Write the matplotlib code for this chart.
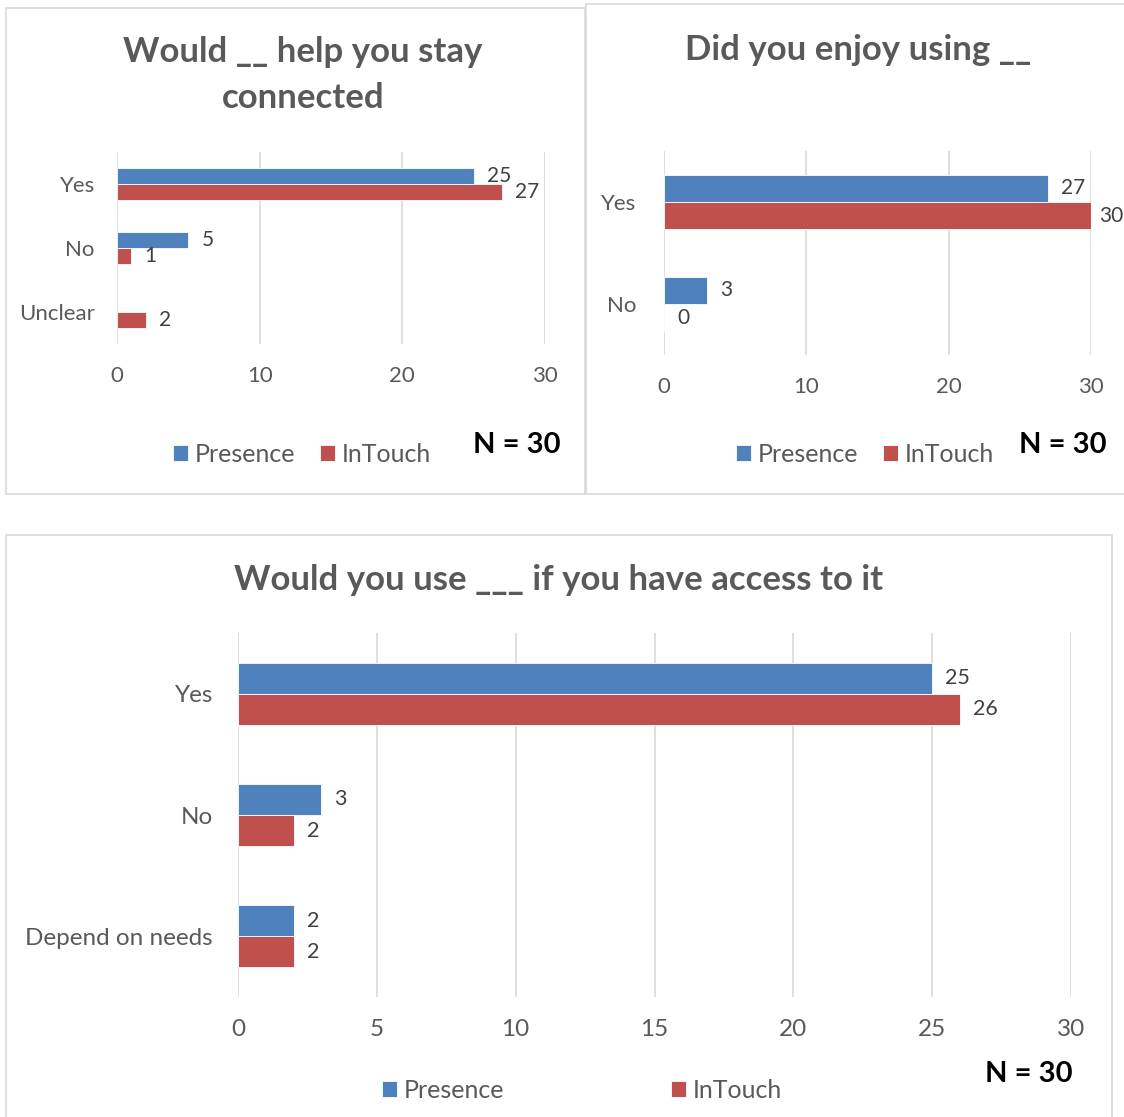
import matplotlib
matplotlib.use("Agg")
import matplotlib.pyplot as plt
from matplotlib.patches import Rectangle
import numpy as np

plt.rcParams['font.family'] = ['Lato', 'DejaVu Sans']

series = ["Presence", "InTouch"]
colors = ["#4F81BD", "#C0504D"]

title1 = "Would __ help you stay\nconnected"
cats1 = ["Yes", "No", "Unclear"]
presence1 = [25, 5, None]
intouch1 = [27, 1, 2]
ticks1 = [0, 10, 20, 30]

title2 = "Did you enjoy using __"
cats2 = ["Yes", "No"]
presence2 = [27, 3]
intouch2 = [30, 0]
ticks2 = [0, 10, 20, 30]

title3 = "Would you use ___ if you have access to it"
cats3 = ["Yes", "No", "Depend on needs"]
presence3 = [25, 3, 2]
intouch3 = [26, 2, 2]
ticks3 = [0, 5, 10, 15, 20, 25, 30]

W, H = 1124, 1117
fig = plt.figure(figsize=(W / 100, H / 100), dpi=100)

def fx(x):
    return x / W

def fy(y):
    return 1 - y / H

TXT = "#595959"
GRID = "#D9D9D9"

def border(l, t, r, b):
    fig.add_artist(Rectangle((fx(l), fy(b)), fx(r) - fx(l), fy(t) - fy(b),
                             transform=fig.transFigure, fill=False,
                             edgecolor=GRID, linewidth=1.2))

def panel(box, cats, pres, intc, ticks, bar_h, ylpad, fs, vfs):
    l, t, r, b = box
    ax = fig.add_axes([fx(l), fy(b), fx(r) - fx(l), fy(t) - fy(b)])
    y = np.arange(len(cats))
    pv = [np.nan if v is None else v for v in pres]
    bp = ax.barh(y - bar_h / 2, pv, height=bar_h, color=colors[0],
                 edgecolor="white", linewidth=0.6, label=series[0], zorder=3)
    bi = ax.barh(y + bar_h / 2, intc, height=bar_h, color=colors[1],
                 edgecolor="white", linewidth=0.6, label=series[1], zorder=3)
    for bars, vals in ((bp, pres), (bi, intc)):
        for rect, v in zip(bars, vals):
            if v is None:
                continue
            off = 8 if v >= ticks[-1] else 13
            ax.annotate(str(v), (v, rect.get_y() + rect.get_height() / 2),
                        xytext=(off, 0), textcoords="offset pixels",
                        ha="left", va="center", fontsize=vfs, color="#404040")
    ax.set_xlim(ticks[0], ticks[-1])
    ax.set_ylim(len(cats) - 0.5, -0.5)
    ax.set_xticks(ticks)
    ax.set_yticks(y)
    ax.set_yticklabels(cats)
    ax.tick_params(axis="x", length=0, pad=15.5, labelsize=fs, labelcolor=TXT)
    ax.tick_params(axis="y", length=0, pad=ylpad, labelsize=fs, labelcolor=TXT)
    ax.grid(axis="x", color=GRID, linewidth=1.2, zorder=0)
    for s in ax.spines.values():
        s.set_visible(False)
    ax.set_facecolor("none")
    return ax, bp, bi

border(6, 8, 585, 494)
border(586, 4, 1130, 494)
border(6, 535, 1112, 1125)

ax1, bp1, bi1 = panel((117, 152, 545, 344), cats1, presence1, intouch1, ticks1, 0.25, 16, 16, 15)
ax2, bp2, bi2 = panel((664, 151, 1091, 355), cats2, presence2, intouch2, ticks2, 0.265, 20, 16, 15)
ax3, bp3, bi3 = panel((238, 633, 1071, 997), cats3, presence3, intouch3, ticks3, 0.256, 18, 17.5, 15.5)

fig.text(fx(303), fy(75), title1, ha="center", va="center", fontsize=25,
         fontweight="bold", color=TXT, linespacing=1.5)
fig.text(fx(858), fy(50), title2, ha="center", va="center", fontsize=25,
         fontweight="bold", color=TXT)
fig.text(fx(559), fy(580), title3, ha="center", va="center", fontsize=25,
         fontweight="bold", color=TXT)

for (cx, cy), handles, cs in (((302, 454), (bp1, bi1), 1.0),
                              ((865, 454), (bp2, bi2), 1.0),
                              ((582, 1090), (bp3, bi3), 6.7)):
    fig.legend(handles, series, loc="center", bbox_to_anchor=(fx(cx), fy(cy)),
               bbox_transform=fig.transFigure, ncol=2, frameon=False,
               fontsize=18, handlelength=0.6, handleheight=0.6,
               handletextpad=0.25, columnspacing=cs, labelcolor=TXT,
               borderpad=0)

for cx, cy in ((517, 445), (1063, 445), (1029, 1074)):
    fig.text(fx(cx), fy(cy), "N = 30", ha="center", va="center", fontsize=21,
             fontweight="bold", color="black")

fig.savefig("out.png", dpi=100, facecolor="white")
